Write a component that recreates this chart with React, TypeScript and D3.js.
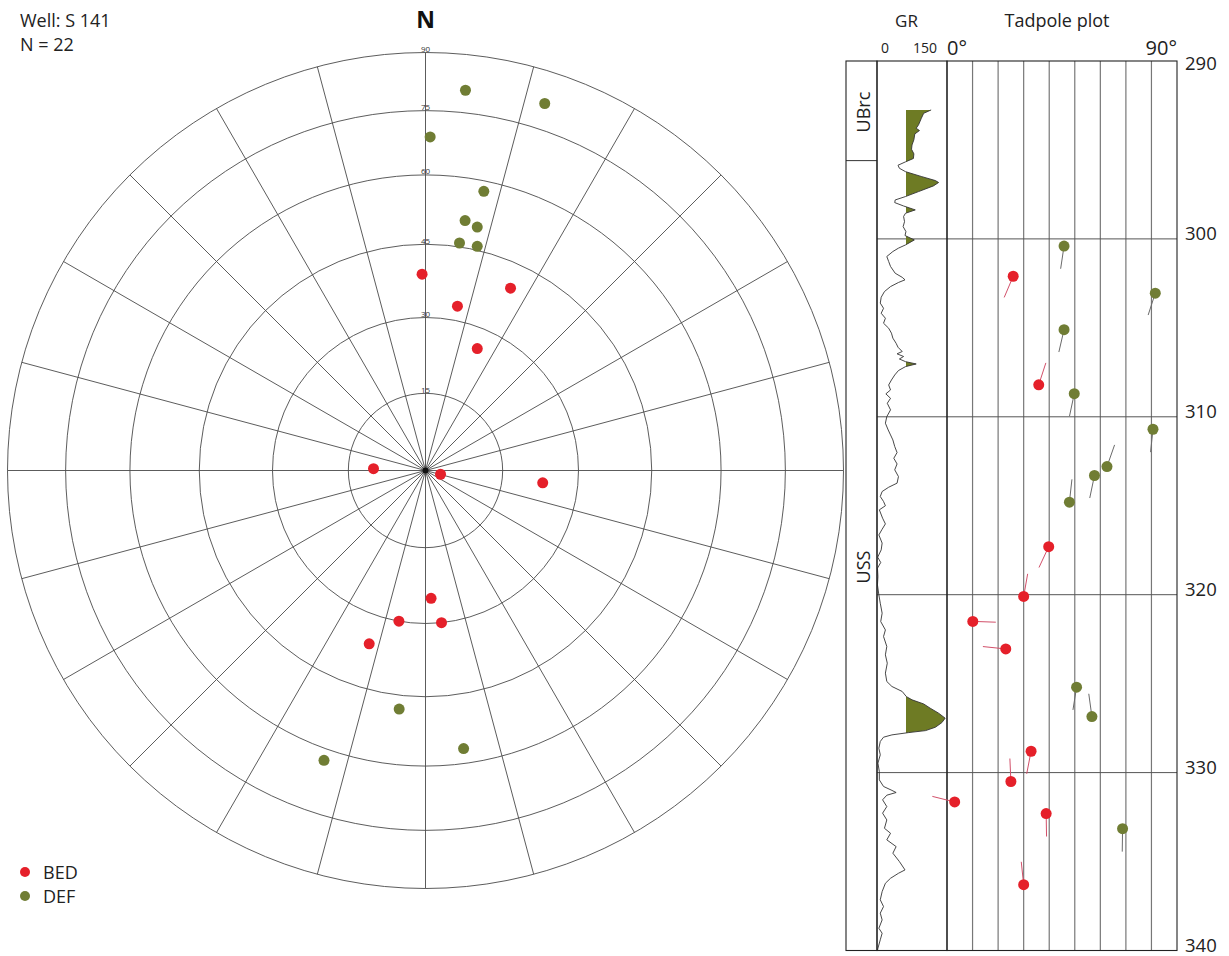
import React from "react";
import * as d3 from "d3";

// ---------------- DATA ----------------
const wellLabel = "Well: S 141";
const countLabel = "N = 22";
const ringDips = [15, 30, 45, 60, 75, 90];
const spokeAzimuths = [0, 15, 30, 45, 60, 75, 90, 105, 120, 135, 150, 165, 180, 195, 210, 225, 240, 255, 270, 285, 300, 315, 330, 345];

const bedDepth = [302.1, 308.2, 317.3, 320.1, 321.5, 323.05, 328.8, 330.5, 331.65, 332.3, 336.3];
const bedDip = [25.9, 35.9, 39.8, 30.0, 10.1, 23.0, 32.9, 25.0, 3.0, 38.8, 30.0];
const bedAzimuth = [23, 198, 25, 190, 272, 96, 11, 177.5, 104, 359, 174];

const defDepth = [300.4, 303.05, 305.1, 308.7, 310.7, 312.8, 313.3, 314.8, 325.2, 326.85, 333.15];
const defDip = [45.8, 81.5, 45.8, 49.8, 80.6, 62.6, 57.7, 47.9, 50.7, 56.7, 68.7];
const defAzimuth = [8.5, 18, 13, 12, 6, 199.3, 11.8, 186.3, 9, 172.2, 0.8];

const depthTicks = [290, 300, 310, 320, 330, 340];
const dipGrid = [0, 10, 20, 30, 40, 50, 60, 70, 80, 90];
const zoneNames = ["UBrc", "USS"];
const zoneTops = [290, 295.6];
const zoneLabelDepth = [292.87, 318.44];

const grCutoff = 61;
const grDepth = [
  292.75, 292.94, 293.22, 293.59, 293.78, 293.91, 294.1, 294.43, 294.72, 294.96, 295.22, 295.48, 295.67, 295.86, 296.03, 296.22,
  296.5, 296.72, 296.83, 297.02, 297.34, 297.62, 297.81, 297.96, 298.15, 298.37, 298.56, 298.74, 299.03, 299.31, 299.59, 299.81,
  300.06, 300.34, 300.52, 300.71, 300.99, 301.27, 301.55, 301.93, 302.16, 302.3, 302.45, 302.68, 302.96, 303.28, 303.61, 303.9,
  304.18, 304.46, 304.74, 305.02, 305.3, 305.58, 305.87, 306.09, 306.33, 306.46, 306.61, 306.75, 306.9, 307.03, 307.18, 307.4,
  307.65, 307.93, 308.21, 308.49, 308.71, 308.96, 309.24, 309.61, 309.99, 310.36, 310.74, 311.02, 311.3, 311.67, 312.01, 312.33,
  312.65, 312.98, 313.36, 313.73, 313.96, 314.2, 314.48, 314.76, 315.0, 315.23, 315.7, 316.02, 316.32, 316.64, 317.1, 317.48,
  317.89, 318.19, 318.51, 318.98, 319.45, 320.01, 320.48, 321.04, 321.51, 321.98, 322.35, 322.91, 323.38, 323.85, 324.41, 324.88,
  325.16, 325.44, 325.73, 325.91, 326.14, 326.38, 326.66, 326.94, 327.19, 327.45, 327.64, 327.75, 327.88, 328.01, 328.25, 328.63,
  329.0, 329.47, 329.94, 330.41, 330.78, 331.0, 331.12, 331.27, 331.53, 331.91, 332.28, 332.66, 333.13, 333.41, 333.78, 334.16,
  334.53, 335.0, 335.47, 335.66, 335.94, 336.22, 336.69, 337.15, 337.53, 337.9, 338.28, 338.75, 339.03, 339.4, 339.87, 340.0,
];
const grValue = [
  116, 100, 95, 89, 84, 91, 81, 79, 75, 74, 79, 78, 61, 45, 48, 61,
  96, 125, 132, 121, 89, 61, 39, 38, 57, 82, 61, 57, 59, 56, 62, 60,
  80, 61, 46, 34, 21, 25, 29, 39, 54, 60, 46, 29, 16, 9, 7, 14,
  9, 18, 14, 25, 31, 34, 41, 45, 54, 43, 57, 48, 61, 84, 61, 46,
  38, 31, 25, 29, 19, 29, 22, 29, 21, 18, 24, 29, 34, 38, 43, 36,
  43, 38, 46, 43, 25, 11, 7, 14, 18, 5, 12, 18, 11, 4, 11, 9,
  1.5, 8, 1, 2, 1, 4, 7, 11, 8, 18, 14, 21, 18, 22, 18, 21,
  32, 54, 63, 75, 100, 114, 132, 146, 139, 125, 104, 68, 32, 14, 7, 4,
  7, 2, 5, 5, 14, 32, 41, 21, 12, 21, 12, 21, 16, 29, 21, 41,
  34, 48, 60, 46, 29, 18, 11, 7, 14, 7, 11, 4, 11, 7, 2, 1,
];

// ---------------- STYLE / LAYOUT ----------------
const FONT = "'Open Sans', 'Noto Sans', sans-serif";
const RED = "#e5202a";
const GREEN = "#707d34";
const GR_FILL = "#6e7b24";
const W = 1229;
const H = 956;
const CX = 425.5;
const CY = 470.5;
const R = 418;
const COL_L = 846;
const GR_L = 877;
const TP_L = 947;
const TP_R = 1177;
const TOP = 61;
const BOT = 950.5;
const TAIL = 23;

type Pt = { depth: number; dip: number; az: number; kind: "BED" | "DEF" };

export default function App() {
  const rScale = d3.scaleLinear().domain([0, 1]).range([0, R]);
  const equalArea = (dip: number) => rScale(Math.SQRT2 * Math.sin(((dip / 2) * Math.PI) / 180));
  const polarXY = (dip: number, az: number) => {
    const r = equalArea(dip);
    const a = (az * Math.PI) / 180;
    return [CX + r * Math.sin(a), CY - r * Math.cos(a)];
  };

  const yDepth = d3.scaleLinear().domain([290, 340]).range([TOP, BOT]);
  const xDip = d3.scaleLinear().domain([0, 90]).range([TP_L, TP_R]);
  const xGR = d3.scaleLinear().domain([0, 150]).range([GR_L, TP_L]);

  const points: Pt[] = [
    ...bedDepth.map((d, i) => ({ depth: d, dip: bedDip[i], az: bedAzimuth[i], kind: "BED" as const })),
    ...defDepth.map((d, i) => ({ depth: d, dip: defDip[i], az: defAzimuth[i], kind: "DEF" as const })),
  ];

  const grPairs: [number, number][] = grDepth.map((d, i) => [d, grValue[i]]);
  const grLine = d3
    .line<[number, number]>()
    .x((d) => xGR(d[1]))
    .y((d) => yDepth(d[0]));
  const grArea = d3
    .area<[number, number]>()
    .y((d) => yDepth(d[0]))
    .x0(xGR(grCutoff))
    .x1((d) => xGR(d[1]));

  const gridStroke = "#4a4a4a";
  const clipX = Math.ceil(xGR(grCutoff));

  return (
    <svg
      width={W}
      height={H}
      viewBox={`0 0 ${W} ${H}`}
      style={{ position: "absolute", left: 0, top: 0, display: "block", background: "#fff" }}
      fontFamily={FONT}
    >
      <defs>
        <clipPath id="grClip">
          <rect x={clipX} y={TOP} width={TP_L - clipX} height={BOT - TOP} />
        </clipPath>
      </defs>
      <rect x={0} y={0} width={W} height={H} fill="#fff" />

      {/* Titles */}
      <text x={20} y={27} fontSize={18} fill="#222">{wellLabel}</text>
      <text x={20} y={51} fontSize={18} fill="#222">{countLabel}</text>
      <text x={CX} y={28} fontSize={23} fontWeight="bold" textAnchor="middle" fill="#111">N</text>

      {/* Polar grid */}
      <g fill="none" stroke={gridStroke} strokeWidth={0.9}>
        {ringDips.map((d) => (
          <circle key={d} cx={CX} cy={CY} r={equalArea(d)} />
        ))}
        {spokeAzimuths.map((az) => {
          const [x, y] = polarXY(90, az);
          return <line key={az} x1={CX} y1={CY} x2={x} y2={y} />;
        })}
      </g>
      <circle cx={CX} cy={CY} r={3} fill="#111" />
      {ringDips.map((d) => (
        <text key={d} x={CX} y={CY - equalArea(d) - 0.5} fontSize={8} textAnchor="middle" fill="#333">
          {d}
        </text>
      ))}
      {points.map((p, i) => {
        const [x, y] = polarXY(p.dip, p.az);
        return <circle key={i} cx={x} cy={y} r={5.5} fill={p.kind === "BED" ? RED : GREEN} />;
      })}

      {/* Legend */}
      <circle cx={25} cy={872} r={5} fill={RED} />
      <text x={43} y={878.5} fontSize={18} fill="#222">BED</text>
      <circle cx={25} cy={896} r={5} fill={GREEN} />
      <text x={43} y={902.5} fontSize={18} fill="#222">DEF</text>

      {/* Right panel headers */}
      <text x={906.5} y={27} fontSize={17} textAnchor="middle" fill="#222">GR</text>
      <text x={1057} y={27} fontSize={18} textAnchor="middle" fill="#222">Tadpole plot</text>
      <text x={885} y={53} fontSize={14} textAnchor="middle" fill="#222">0</text>
      <text x={925} y={53} fontSize={14} textAnchor="middle" fill="#222">150</text>
      <text x={TP_L} y={55} fontSize={20} fill="#222">0°</text>
      <text x={TP_R} y={55} fontSize={20} textAnchor="end" fill="#222">90°</text>

      {/* Tadpole vertical grid */}
      <g stroke="#777" strokeWidth={1.2}>
        {dipGrid.slice(1, -1).map((d) => (
          <line key={d} x1={xDip(d)} x2={xDip(d)} y1={TOP} y2={BOT} />
        ))}
      </g>
      {/* Depth lines */}
      <g stroke="#555" strokeWidth={1}>
        {depthTicks.slice(1, -1).map((d) => (
          <line key={d} x1={GR_L} x2={TP_R} y1={yDepth(d)} y2={yDepth(d)} />
        ))}
      </g>
      {depthTicks.map((d, i) => (
        <text key={d} x={1185} y={i === 0 ? 70 : yDepth(d) + 1} fontSize={18.5} fill="#222">
          {d}
        </text>
      ))}

      {/* GR curve */}
      <path d={grArea(grPairs) || ""} fill={GR_FILL} clipPath="url(#grClip)" />
      <path d={grLine(grPairs) || ""} fill="none" stroke="#333" strokeWidth={0.9} />

      {/* Zones */}
      {zoneNames.map((z, i) => (
        <g key={z}>
          {i > 0 && <line x1={COL_L} x2={GR_L} y1={yDepth(zoneTops[i])} y2={yDepth(zoneTops[i])} stroke="#333" />}
          <text
            transform={`translate(${(COL_L + GR_L) / 2 + 1},${yDepth(zoneLabelDepth[i])})rotate(-90)`}
            fontSize={18}
            textAnchor="middle"
            dominantBaseline="central"
            fill="#222"
          >
            {z}
          </text>
        </g>
      ))}

      {/* Frames */}
      <g fill="none" stroke="#222" strokeWidth={1.1}>
        <rect x={COL_L} y={TOP} width={GR_L - COL_L} height={BOT - TOP} />
        <rect x={GR_L} y={TOP} width={TP_L - GR_L} height={BOT - TOP} />
        <rect x={TP_L} y={TOP} width={TP_R - TP_L} height={BOT - TOP} />
      </g>

      {/* Tadpoles */}
      {points.map((p, i) => {
        const x = xDip(p.dip);
        const y = yDepth(p.depth);
        const a = ((p.az + 180) * Math.PI) / 180;
        return (
          <line
            key={"t" + i}
            x1={x}
            y1={y}
            x2={x + TAIL * Math.sin(a)}
            y2={y - TAIL * Math.cos(a)}
            stroke={p.kind === "BED" ? "#d2506a" : "#6a6a6a"}
            strokeWidth={1}
          />
        );
      })}
      {points.map((p, i) => (
        <circle key={"d" + i} cx={xDip(p.dip)} cy={yDepth(p.depth)} r={5.5} fill={p.kind === "BED" ? RED : GREEN} />
      ))}
    </svg>
  );
}
